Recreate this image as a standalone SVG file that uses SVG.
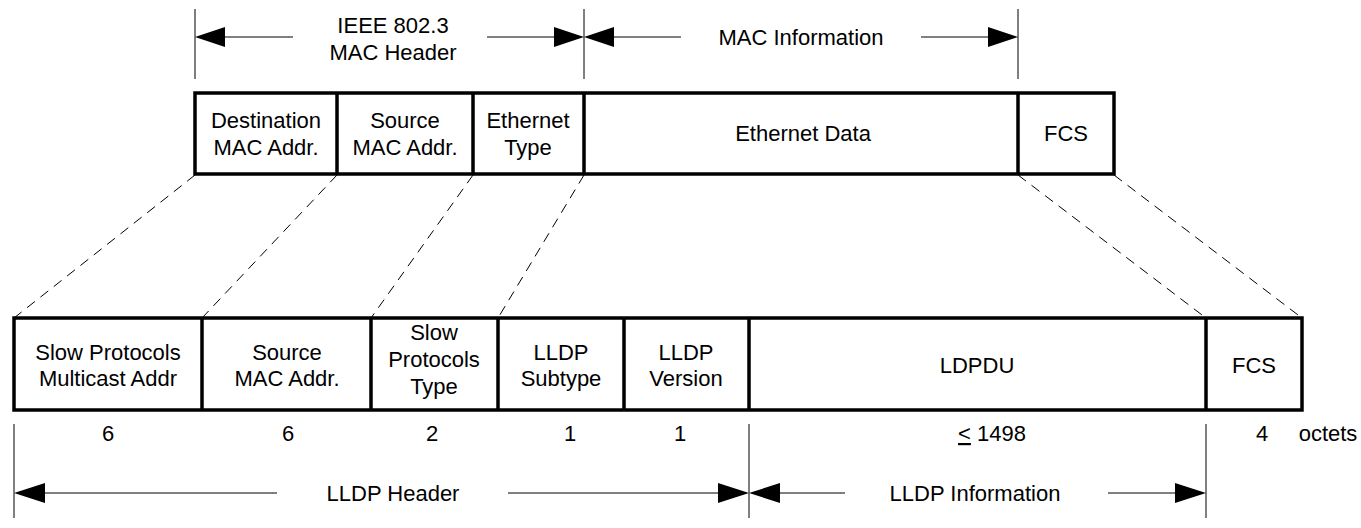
<svg xmlns="http://www.w3.org/2000/svg" width="1361" height="528" viewBox="0 0 1361 528">
<style>
text{font-family:"Liberation Sans",Arial,sans-serif;font-size:22px;fill:#000;text-anchor:middle}
.box{fill:#fff;stroke:#000;stroke-width:3.5}
.div{stroke:#000;stroke-width:3.5}
.thin{stroke:#000;stroke-width:1;fill:none}
.dash{stroke:#000;stroke-width:1;stroke-dasharray:10,7;fill:none}
.ah{fill:#000}
</style>
<rect width="1361" height="528" fill="#fff"/>
<g id="connectors">
<path class="dash" d="M195,175 L14,318 M337,175 L202,318 M473,175 L371,318 M584,175 L498,318 M1018,175 L1206,318 M1114,175 L1302,318"/>
</g>
<g id="top-dimensions">
<path class="thin" d="M195,9 V79 M584,9 V79 M1018,9 V79"/>
<path class="thin" d="M223,37 H293 M487,37 H556 M612,37 H681 M921,37 H990"/>
<polygon class="ah" points="195,37 225,27 225,47"/>
<polygon class="ah" points="584,37 554,27 554,47"/>
<polygon class="ah" points="584,37 614,27 614,47"/>
<polygon class="ah" points="1018,37 988,27 988,47"/>
<text x="393" y="33">IEEE 802.3</text>
<text x="393" y="60">MAC Header</text>
<text x="801" y="45">MAC Information</text>
</g>
<g id="top-frame">
<rect class="box" x="195" y="93" width="919" height="81"/>
<path class="div" d="M337,93 V174 M473,93 V174 M584,93 V174 M1018,93 V174"/>
</g>
<g id="n-dest"><text x="266" y="128">Destination</text><text x="266" y="155">MAC Addr.</text></g>
<g id="n-src"><text x="405" y="128">Source</text><text x="405" y="155">MAC Addr.</text></g>
<g id="n-ethtype"><text x="528" y="128">Ethernet</text><text x="528" y="155">Type</text></g>
<g id="n-ethdata"><text x="803" y="141">Ethernet Data</text></g>
<g id="n-fcs1"><text x="1066" y="141">FCS</text></g>
<g id="bottom-frame">
<rect class="box" x="14" y="318" width="1288" height="92"/>
<path class="div" d="M202,318 V410 M371,318 V410 M498,318 V410 M624,318 V410 M749,318 V410 M1206,318 V410"/>
</g>
<g id="n-spma"><text x="108" y="360">Slow Protocols</text><text x="108" y="386">Multicast Addr</text></g>
<g id="n-smac"><text x="287" y="360">Source</text><text x="287" y="386">MAC Addr.</text></g>
<g id="n-spt"><text x="434" y="340">Slow</text><text x="434" y="367">Protocols</text><text x="434" y="394">Type</text></g>
<g id="n-subtype"><text x="561" y="360">LLDP</text><text x="561" y="386">Subtype</text></g>
<g id="n-version"><text x="686" y="360">LLDP</text><text x="686" y="386">Version</text></g>
<g id="n-ldpdu"><text x="977" y="373">LDPDU</text></g>
<g id="n-fcs2"><text x="1254" y="373">FCS</text></g>
<g id="sizes">
<text x="108" y="441">6</text>
<text x="288" y="441">6</text>
<text x="432" y="441">2</text>
<text x="570" y="441">1</text>
<text x="680" y="441">1</text>
<text x="992" y="441"><tspan text-decoration="underline">&lt;</tspan> 1498</text>
<text x="1262" y="441">4</text>
<text x="1328" y="441">octets</text>
</g>
<g id="bottom-dimensions">
<path class="thin" d="M14,424 V518 M749,424 V518 M1206,424 V518"/>
<path class="thin" d="M42,493 H277 M508,493 H721 M777,493 H845 M1108,493 H1178"/>
<polygon class="ah" points="14,493 45,483 45,503"/>
<polygon class="ah" points="749,493 718,483 718,503"/>
<polygon class="ah" points="749,493 780,483 780,503"/>
<polygon class="ah" points="1206,493 1175,483 1175,503"/>
<text x="393" y="501">LLDP Header</text>
<text x="975" y="501">LLDP Information</text>
</g>
</svg>
